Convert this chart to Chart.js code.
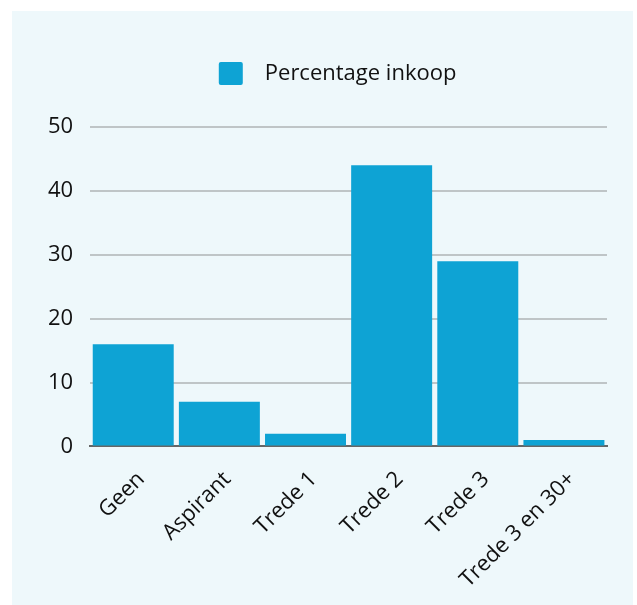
<!DOCTYPE html>
<html>
<head>
<meta charset="utf-8">
<script src="https://cdn.jsdelivr.net/npm/chart.js@4"></script>
<style>
    html, body { margin: 0; padding: 0; background: #ffffff; }
    #panel {
        position: absolute;
        left: 12px;
        top: 11px;
        width: 621px;
        height: 594px;
        background: #eef8fb;
    }
</style>
</head>
<body>
<div id="panel"><canvas id="chart"></canvas></div>
<script>
const categories = ['Geen', 'Aspirant', 'Trede 1', 'Trede 2', 'Trede 3', 'Trede 3 en 30+'];
const inkoopValues = [16, 7, 2, 44, 29, 1];
const yTicks = [0, 10, 20, 30, 40, 50];

// More room under the legend, and nudge it a little to the left
const legendSpacing = {
    id: 'legendSpacing',
    beforeInit(chart) {
        const originalFit = chart.legend.fit;
        chart.legend.fit = function fit() {
            originalFit.bind(chart.legend)();
            this.height += 32;
        };
    },
    afterLayout(chart) {
        chart.legend.left -= 11;
        chart.legend.right -= 11;
    }
};

const ctx = document.getElementById('chart').getContext('2d');
new Chart(ctx, {
    type: 'bar',
    data: {
        labels: categories,
        datasets: [{
            label: 'Percentage inkoop',
            data: inkoopValues,
            backgroundColor: '#0ea3d4',
            borderWidth: 0,
            categoryPercentage: 1,
            barPercentage: 0.94
        }]
    },
    plugins: [legendSpacing],
    options: {
        responsive: true,
        maintainAspectRatio: false,
        animation: false,
        layout: {
            padding: { left: 19, right: 26, top: 31, bottom: 0 }
        },
        plugins: {
            legend: {
                position: 'top',
                fullSize: false,
                labels: {
                    font: { family: 'Open Sans', size: 22 },
                    color: '#111',
                    boxWidth: 24,
                    boxHeight: 23,
                    padding: 20,
                    useBorderRadius: true,
                    borderRadius: 2,
                    // extra gap between the colour box and the text
                    generateLabels: chart => Chart.defaults.plugins.legend.labels.generateLabels(chart)
                        .map(item => ({ ...item, text: '\u2002' + item.text }))
                }
            },
            tooltip: { enabled: false }
        },
        scales: {
            x: {
                grid: { display: false },
                border: { display: true, color: '#666', width: 2 },
                ticks: {
                    font: { family: 'Open Sans', size: 22 },
                    color: '#111',
                    maxRotation: 45,
                    minRotation: 45,
                    padding: 12,
                    labelOffset: 8
                }
            },
            y: {
                min: 0,
                max: 50,
                afterBuildTicks: axis => {
                    axis.ticks = yTicks.map(v => ({ value: v }));
                },
                grid: {
                    color: '#bfc5c7',
                    lineWidth: 2,
                    drawTicks: false
                },
                border: { display: false },
                ticks: {
                    font: { family: 'Open Sans', size: 22 },
                    color: '#111',
                    padding: 17
                }
            }
        }
    }
});
</script>
</body>
</html>
